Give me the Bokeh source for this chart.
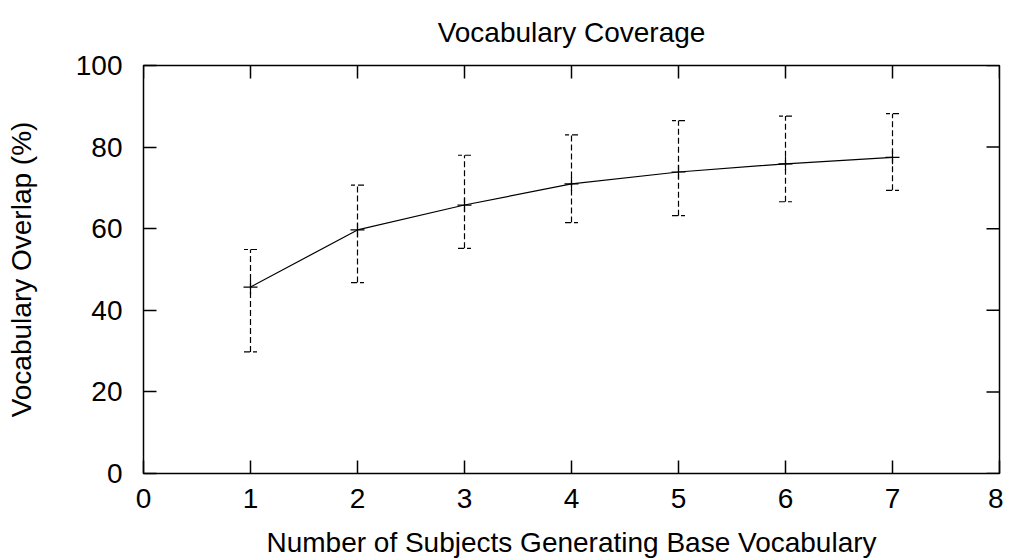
import math
from bokeh.plotting import figure
from bokeh.models import Range1d, LinearAxis, FixedTicker, Whisker, TeeHead, ColumnDataSource, Title
from bokeh.embed import file_html
from bokeh.resources import INLINE

# Data
subjects = [1, 2, 3, 4, 5, 6, 7]
overlap_mean = [45.7, 59.7, 65.8, 71.0, 73.9, 75.9, 77.5]
overlap_upper = [54.9, 70.7, 78.0, 83.0, 86.5, 87.6, 88.2]
overlap_lower = [29.8, 46.8, 55.2, 61.5, 63.2, 66.6, 69.4]
x_ticks = [0, 1, 2, 3, 4, 5, 6, 7, 8]
y_ticks = [0, 20, 40, 60, 80, 100]
X_MIN, X_MAX = 0, 8
Y_MIN, Y_MAX = 0, 100

FONT = "Liberation Sans"
FS = "28px"

src = ColumnDataSource(dict(x=subjects, m=overlap_mean, up=overlap_upper, lo=overlap_lower))

p = figure(frame_width=856, frame_height=408,
           x_range=Range1d(X_MIN, X_MAX), y_range=Range1d(Y_MIN, Y_MAX),
           output_backend="svg", toolbar_location=None,
           min_border_left=143, min_border_right=4,
           min_border_top=65, min_border_bottom=84,
           x_axis_location=None, y_axis_location=None)
p.grid.visible = False
p.outline_line_color = "black"
p.outline_line_width = 1.5
p.background_fill_color = "white"
p.border_fill_color = "white"

p.title = Title(text="Vocabulary Coverage", align="center", text_font=FONT,
                text_font_size=FS, text_font_style="normal", text_color="black",
                standoff=32, vertical_align="top")

def style(ax, ticks):
    ax.ticker = FixedTicker(ticks=ticks)
    ax.axis_line_color = None
    ax.major_tick_in = 13
    ax.major_tick_out = 0
    ax.major_tick_line_color = "black"
    ax.major_tick_line_width = 1.5
    ax.minor_tick_line_color = None
    ax.major_label_text_font = FONT
    ax.major_label_text_color = "black"
    ax.major_label_text_font_size = FS
    ax.axis_label_text_font = FONT
    ax.axis_label_text_font_style = "normal"
    ax.axis_label_text_font_size = FS
    ax.axis_label_text_color = "black"

bottom = LinearAxis(axis_label="Number of Subjects Generating Base Vocabulary")
style(bottom, x_ticks)
bottom.major_label_standoff = 15
bottom.axis_label_standoff = 16
p.add_layout(bottom, "below")

left = LinearAxis(axis_label="Vocabulary Overlap (%)")
style(left, y_ticks)
left.major_label_standoff = 21
left.axis_label_standoff = 36
p.add_layout(left, "left")

# mirrored inner ticks on the top and right frame edges
p.ray(x=x_ticks, y=[Y_MAX] * len(x_ticks), length=13, length_units="screen",
      angle=-math.pi / 2, line_color="black", line_width=1.5)
p.ray(x=[X_MAX] * len(y_ticks), y=y_ticks, length=13, length_units="screen",
      angle=math.pi, line_color="black", line_width=1.5)

# error bars (dashed)
w = Whisker(source=src, base="x", upper="up", lower="lo", dimension="height",
            line_color="black", line_width=1.2, line_dash="6 3",
            upper_head=TeeHead(size=13, line_color="black", line_width=1.2, line_dash="6 3"),
            lower_head=TeeHead(size=13, line_color="black", line_width=1.2, line_dash="6 3"))
p.add_layout(w)

p.line("x", "m", source=src, line_color="black", line_width=1.2)
p.scatter("x", "m", source=src, marker="cross", size=14, line_color="black", line_width=1.2)

open("out.html", "w").write(file_html(p, INLINE))
